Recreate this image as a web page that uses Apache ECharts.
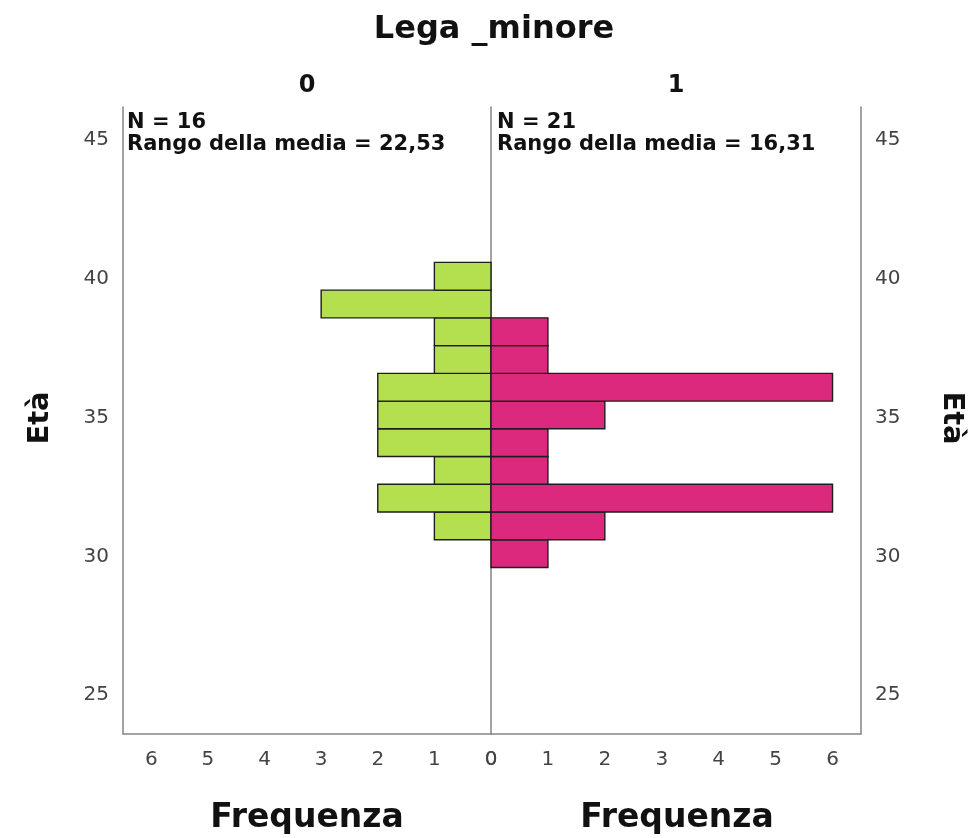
<!DOCTYPE html>
<html>
<head>
<meta charset="utf-8">
<script src="https://cdn.jsdelivr.net/npm/echarts@6/dist/echarts.min.js"></script>
<style>
  html, body { margin: 0; padding: 0; background: #fff; }
  #main { width: 976px; height: 838px; }
</style>
</head>
<body>
<div id="main"></div>
<script>
// bordi delle classi di età (istogramma SPSS)
var ageEdges = [29.6, 30.6, 31.6, 32.6, 33.6, 34.6, 35.6, 36.6, 37.6, 38.6, 39.6, 40.6];
var freqLega0 = [0, 1, 2, 1, 2, 2, 2, 1, 1, 3, 1];
var freqLega1 = [1, 2, 6, 1, 1, 2, 6, 1, 1, 0, 0];
var ageTicks = [25, 30, 35, 40, 45];
var freqTicks = [0, 1, 2, 3, 4, 5, 6];
var groupNames = ['0', '1'];
var groupN = ['N = 16', 'N = 21'];
var groupRank = ['Rango della media = 22,53', 'Rango della media = 16,31'];

var FONT = 'DejaVu Sans';
var axisColor = '#858585';

var binData = function (freq) {
    var res = [];
    for (var i = 0; i < freq.length; i++) {
        if (freq[i] > 0) {
            res.push([ageEdges[i], ageEdges[i + 1], freq[i]]);
        }
    }
    return res;
};

var barRender = function (color) {
    return function (params, api) {
        var a = api.coord([0, api.value(0)]);
        var b = api.coord([api.value(2), api.value(1)]);
        return {
            type: 'rect',
            shape: {
                x: Math.min(a[0], b[0]),
                y: Math.min(a[1], b[1]),
                width: Math.abs(b[0] - a[0]),
                height: Math.abs(b[1] - a[1])
            },
            style: { fill: color, stroke: '#1e1e1e', lineWidth: 1.4 }
        };
    };
};

var yBase = {
    type: 'value',
    min: 23.6,
    max: 46.2,
    axisLine: { show: true, onZero: false, lineStyle: { color: axisColor, width: 1.5 } },
    axisTick: { show: false },
    splitLine: { show: false },
    axisLabel: {
        customValues: ageTicks,
        fontFamily: FONT,
        fontSize: 20,
        color: '#444',
        margin: 14
    }
};

var xBase = {
    type: 'value',
    min: 0,
    max: 6.5,
    axisLine: { show: true, onZero: false, lineStyle: { color: axisColor, width: 1.5 } },
    axisTick: { show: false },
    splitLine: { show: false },
    axisLabel: {
        customValues: freqTicks,
        fontFamily: FONT,
        fontSize: 20,
        color: '#444',
        margin: 16
    }
};

var chart = echarts.init(document.getElementById('main'));

var option = {
    backgroundColor: '#fff',
    animation: false,
    grid: [
        { left: 123, right: 485, top: 107, bottom: 104 },
        { left: 491, right: 115, top: 107, bottom: 104 }
    ],
    xAxis: [
        echarts.util.merge({ gridIndex: 0, inverse: true }, xBase, true),
        echarts.util.merge({ gridIndex: 1 }, xBase, true)
    ],
    yAxis: [
        echarts.util.merge({ gridIndex: 0, position: 'left' }, yBase, true),
        echarts.util.merge({ gridIndex: 1, position: 'right' }, yBase, true),
        echarts.util.merge({ gridIndex: 1, position: 'left', axisLabel: { show: false } }, yBase, true)
    ],
    series: [
        {
            type: 'custom',
            xAxisIndex: 0,
            yAxisIndex: 0,
            renderItem: barRender('#b4e050'),
            encode: { x: 2, y: [0, 1] },
            data: binData(freqLega0)
        },
        {
            type: 'custom',
            xAxisIndex: 1,
            yAxisIndex: 1,
            renderItem: barRender('#dc287d'),
            encode: { x: 2, y: [0, 1] },
            data: binData(freqLega1)
        }
    ],
    graphic: [
        {
            type: 'text', x: 494, y: 30,
            style: { text: 'Lega _minore', font: 'bold 32px ' + FONT, fill: '#111', align: 'center', verticalAlign: 'middle' }
        },
        {
            type: 'text', x: 307, y: 86,
            style: { text: groupNames[0], font: 'bold 24px ' + FONT, fill: '#111', align: 'center', verticalAlign: 'middle' }
        },
        {
            type: 'text', x: 676, y: 86,
            style: { text: groupNames[1], font: 'bold 24px ' + FONT, fill: '#111', align: 'center', verticalAlign: 'middle' }
        },
        {
            type: 'text', x: 127, y: 112,
            style: { text: groupN[0] + '\n' + groupRank[0], font: 'bold 21px ' + FONT, lineHeight: 22, fill: '#111' }
        },
        {
            type: 'text', x: 497, y: 112,
            style: { text: groupN[1] + '\n' + groupRank[1], font: 'bold 21px ' + FONT, lineHeight: 22, fill: '#111' }
        },
        {
            type: 'text', x: 40, y: 418, rotation: Math.PI / 2,
            style: { text: 'Età', font: 'bold 29px ' + FONT, fill: '#111', align: 'center', verticalAlign: 'middle' }
        },
        {
            type: 'text', x: 952, y: 418, rotation: -Math.PI / 2,
            style: { text: 'Età', font: 'bold 29px ' + FONT, fill: '#111', align: 'center', verticalAlign: 'middle' }
        },
        {
            type: 'text', x: 307, y: 818,
            style: { text: 'Frequenza', font: 'bold 33px ' + FONT, fill: '#111', align: 'center', verticalAlign: 'middle' }
        },
        {
            type: 'text', x: 677, y: 818,
            style: { text: 'Frequenza', font: 'bold 33px ' + FONT, fill: '#111', align: 'center', verticalAlign: 'middle' }
        }
    ]
};

chart.setOption(option);
window.addEventListener('resize', function () {
    chart.resize();
});
</script>
</body>
</html>
